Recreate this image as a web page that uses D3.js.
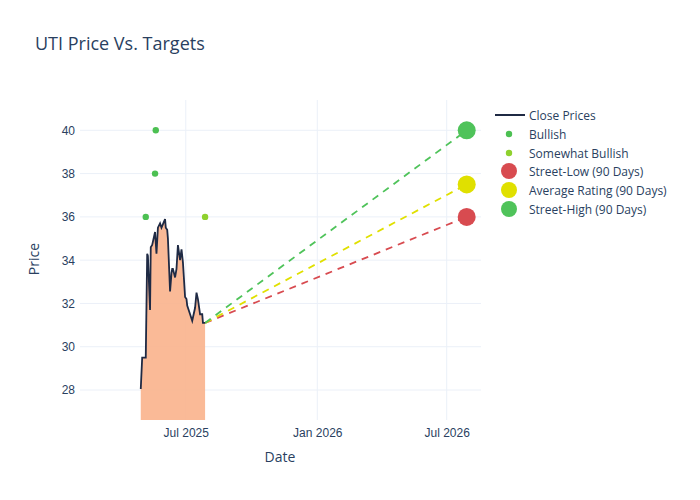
<!DOCTYPE html>
<html><head><meta charset="utf-8">
<script src="https://cdn.jsdelivr.net/npm/d3@7"></script>
<style>body{margin:0;background:#fff;font-family:"Open Sans","DejaVu Sans",sans-serif;}</style>
</head><body><svg id="c" width="700" height="500"></svg>
<script>
const closeDates = ["2025-04-29","2025-05-01","2025-05-05","2025-05-06","2025-05-08","2025-05-09","2025-05-12","2025-05-13","2025-05-15","2025-05-19","2025-05-21","2025-05-23","2025-05-26","2025-05-28","2025-06-02","2025-06-03","2025-06-05","2025-06-06","2025-06-09","2025-06-11","2025-06-12","2025-06-13","2025-06-16","2025-06-18","2025-06-20","2025-06-23","2025-06-25","2025-06-27","2025-06-30","2025-07-02","2025-07-03","2025-07-07","2025-07-10","2025-07-14","2025-07-16","2025-07-18","2025-07-21","2025-07-24","2025-07-25","2025-07-28"];
const closeValues = [28.05,29.5,29.5,29.5,34.3,34.2,31.7,34.6,34.7,35.3,34.3,35.5,35.7,35.5,35.9,35.5,35.4,35.0,32.55,33.4,33.6,33.6,33.2,33.6,34.7,34.0,34.5,33.9,32.3,32.2,31.9,31.5,31.2,31.8,32.5,32.2,31.5,31.5,31.1,31.1];
const bullishDates = ["2025-05-06","2025-05-19","2025-05-20"];
const bullishValues = [36,38,40];
const somewhatDates = ["2025-07-28"];
const somewhatValues = [36];
const targetDate = "2026-07-29";
const targetNames = ["Street-Low (90 Days)","Average Rating (90 Days)","Street-High (90 Days)"];
const targetValues = [36,37.5,40];
const targetColors = ["#d84b50","#e0e000","#4fc35a"];
const xTicks = ["2025-07-01","2026-01-01","2026-07-01"];
const xTickLabels = ["Jul 2025","Jan 2026","Jul 2026"];
const yTicks = [28,30,32,34,36,38,40];

const P = d3.timeParse("%Y-%m-%d");
const svg = d3.select("#c");
const L=80,R=481,T=100,B=420;
const x = d3.scaleTime().domain([P("2025-02-03"),P("2026-08-18")]).range([L,R]);
const y = d3.scaleLinear().domain([26.615,41.4]).range([B,T]);
const ink="#2a3f5f";

svg.append("g").selectAll("line").data(yTicks).join("line")
 .attr("x1",L).attr("x2",R).attr("y1",d=>y(d)).attr("y2",d=>y(d)).attr("stroke","#ebf0f8");
svg.append("g").selectAll("line").data(xTicks).join("line")
 .attr("x1",d=>x(P(d))).attr("x2",d=>x(P(d))).attr("y1",T).attr("y2",B).attr("stroke","#ebf0f8");

const yAx = svg.append("g").attr("transform",`translate(${L-3},0)`).call(d3.axisLeft(y).tickValues(yTicks).tickSize(0));
yAx.select(".domain").remove();
yAx.selectAll("text").attr("fill",ink).attr("font-size",12).attr("x",-2);
const xAx = svg.append("g").attr("transform",`translate(0,${B+3})`).call(d3.axisBottom(x).tickValues(xTicks.map(P)).tickFormat((d,i)=>xTickLabels[i]).tickSize(0));
xAx.select(".domain").remove();
xAx.selectAll("text").attr("fill",ink).attr("font-size",12).attr("dy","0.9em");

const cd = closeDates.map((d,i)=>[P(d),closeValues[i]]);
svg.append("path").datum(cd).attr("fill","#f9b38c").attr("fill-opacity",0.9)
 .attr("d",d3.area().x(d=>x(d[0])).y0(B).y1(d=>y(d[1])));
const last = cd[cd.length-1];
targetValues.forEach((v,i)=>{
 svg.append("line").attr("x1",x(last[0])).attr("y1",y(last[1])).attr("x2",x(P(targetDate))).attr("y2",y(v))
  .attr("stroke",targetColors[i]).attr("stroke-width",1.8).attr("stroke-dasharray","7,6");
});
svg.append("path").datum(cd).attr("fill","none").attr("stroke","#1f2a44").attr("stroke-width",1.8)
 .attr("d",d3.line().x(d=>x(d[0])).y(d=>y(d[1])));
svg.append("g").selectAll("circle").data(bullishDates).join("circle")
 .attr("cx",d=>x(P(d))).attr("cy",(d,i)=>y(bullishValues[i])).attr("r",3.2).attr("fill","#4cc052");
svg.append("g").selectAll("circle").data(somewhatDates).join("circle")
 .attr("cx",d=>x(P(d))).attr("cy",(d,i)=>y(somewhatValues[i])).attr("r",3.2).attr("fill","#8fd12e");
svg.append("g").selectAll("circle").data(targetValues).join("circle")
 .attr("cx",x(P(targetDate))).attr("cy",d=>y(d)).attr("r",9).attr("fill",(d,i)=>targetColors[i]);

svg.append("text").attr("x",35).attr("y",50).attr("fill",ink).attr("font-size",18).text("UTI Price Vs. Targets");
svg.append("text").attr("x",280).attr("y",462).attr("fill",ink).attr("font-size",14).attr("text-anchor","middle").text("Date");
svg.append("text").attr("transform","translate(39,259) rotate(-90)").attr("fill",ink).attr("font-size",14).attr("text-anchor","middle").text("Price");

const leg = [
 {n:"Close Prices",t:"line",c:"#1f2a44"},
 {n:"Bullish",t:"s",c:"#4cc052"},
 {n:"Somewhat Bullish",t:"s",c:"#8fd12e"},
 {n:targetNames[0],t:"b",c:targetColors[0]},
 {n:targetNames[1],t:"b",c:targetColors[1]},
 {n:targetNames[2],t:"b",c:targetColors[2]}];
const ly=[115,134,153,171,190,209];
leg.forEach((d,i)=>{
 const g=svg.append("g").attr("transform",`translate(495,${ly[i]})`);
 if(d.t==="line") g.append("line").attr("x1",0).attr("x2",30).attr("stroke",d.c).attr("stroke-width",2);
 else g.append("circle").attr("cx",14).attr("r",d.t==="s"?3.2:8).attr("fill",d.c);
 g.append("text").attr("x",34).attr("y",4.5).attr("fill",ink).attr("font-size",12).text(d.n);
});
</script></body></html>
